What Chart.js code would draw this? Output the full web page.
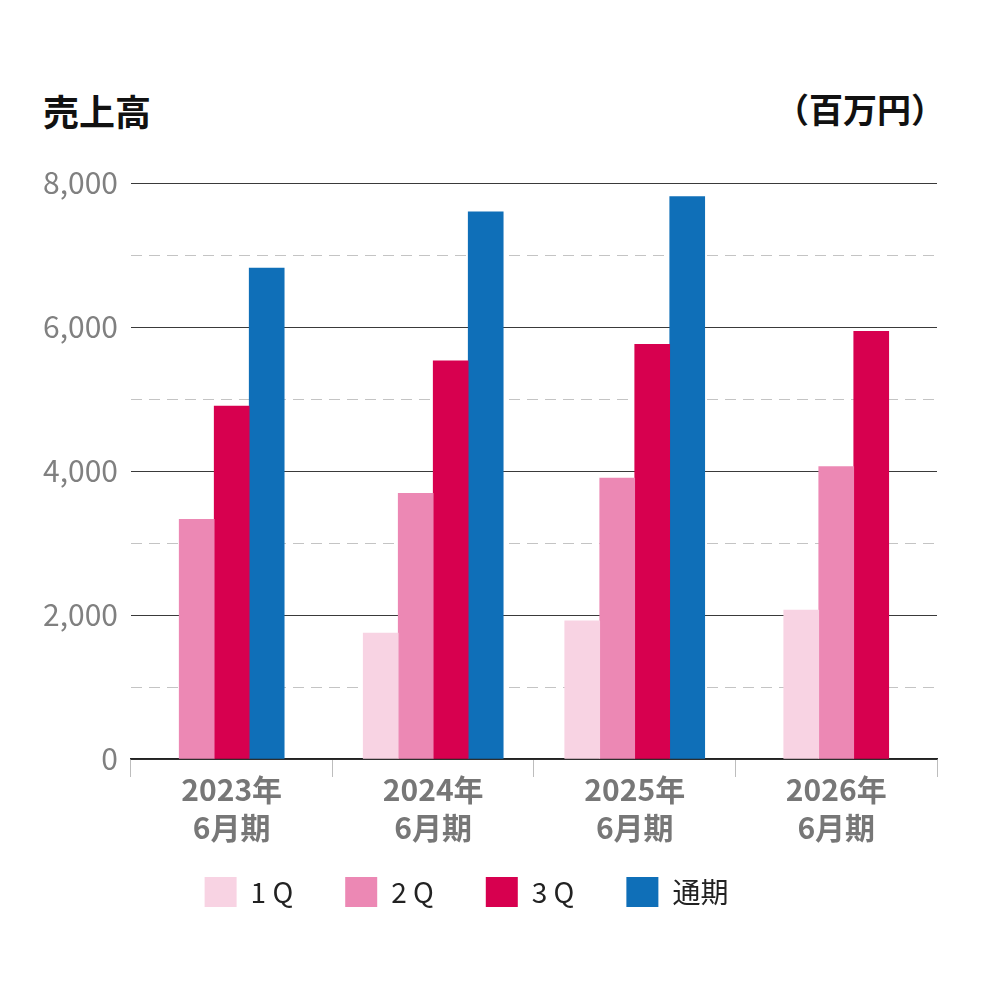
<!DOCTYPE html>
<html>
<head>
<meta charset="utf-8">
<script src="https://cdn.jsdelivr.net/npm/chart.js@4.4.1/dist/chart.umd.min.js"></script>
<style>
  html, body { margin: 0; padding: 0; background: #fff; }
  #wrap { position: relative; width: 1000px; height: 1000px; }
  #chart { position: absolute; left: 0; top: 0; }
  .ttl { position: absolute; font-family: 'Noto Sans CJK JP', sans-serif; font-weight: bold; color: #111; white-space: nowrap; }
</style>
</head>
<body>
<div id="wrap">
  <div class="ttl" style="left:43px; top:84px; font-size:36px;">売上高</div>
  <div class="ttl" style="right:55px; top:84px; font-size:34px;">（百万円）</div>
  <canvas id="chart" width="1000" height="1000"></canvas>
</div>
<script>
// カテゴリと系列
const categories = [['2023年', '6月期'], ['2024年', '6月期'], ['2025年', '6月期'], ['2026年', '6月期']];
const legendLabels = ['1 Q', '2 Q', '3 Q', '通期'];
const q1 = [null, 1750, 1920, 2070];
const q2 = [3330, 3690, 3900, 4060];
const q3 = [4900, 5530, 5760, 5940];
const fullYear = [6820, 7600, 7810, null];
const yTicks = [0, 2000, 4000, 6000, 8000];

const colors = ['#f8d3e3', '#ec88b4', '#d7004f', '#0f6fb8'];
const values = [q1, q2, q3, fullYear];

const jpFont = "'Noto Sans CJK JP', sans-serif";

// 凡例の位置を少しずらす
const legendShift = {
    id: 'legendShift',
    afterLayout(chart) {
        const lg = chart.legend;
        lg.left -= 34;
        lg.top -= 25;
        lg.bottom -= 25;
    }
};

const ctx = document.getElementById('chart').getContext('2d');

const chart = new Chart(ctx, {
    type: 'bar',
    plugins: [legendShift],
    data: {
        labels: categories,
        datasets: values.map((v, i) => ({
            label: legendLabels[i],
            data: v,
            backgroundColor: colors[i],
            borderWidth: 0,
            barThickness: 35
        }))
    },
    options: {
        responsive: false,
        animation: false,
        skipNull: true,
        layout: { padding: { top: 183, left: 30, right: 63, bottom: 58 } },
        plugins: {
            title: { display: false },
            tooltip: { enabled: false },
            legend: {
                position: 'bottom',
                labels: {
                    boxWidth: 32,
                    boxHeight: 30,
                    padding: 52,
                    color: '#222',
                    font: { family: jpFont, size: 28 }
                }
            }
        },
        scales: {
            x: {
                offset: true,
                afterFit: s => { s.height += 10; },
                grid: {
                    display: true,
                    drawOnChartArea: false,
                    drawTicks: true,
                    tickLength: 18,
                    tickColor: '#bdbdbd',
                    offset: true
                },
                border: { display: true, color: '#222', width: 1.5 },
                ticks: {
                    color: '#777',
                    padding: -6,
                    font: { family: jpFont, size: 30, weight: 'bold', lineHeight: 1.25 }
                }
            },
            y: {
                min: 0,
                max: 8000,
                border: {
                    display: false,
                    dash: c => (c.tick && c.tick.value % 2000 !== 0) ? [11, 7] : []
                },
                grid: {
                    drawTicks: false,
                    lineWidth: 1,
                    color: c => (c.tick && c.tick.value % 2000 !== 0) ? '#c4c4c4' : '#3a3a3a'
                },
                ticks: {
                    stepSize: 1000,
                    padding: 13,
                    color: '#808080',
                    font: { family: jpFont, size: 30 },
                    callback: value => yTicks.includes(value) ? value.toLocaleString('en-US') : ''
                }
            }
        }
    }
});
</script>
</body>
</html>
